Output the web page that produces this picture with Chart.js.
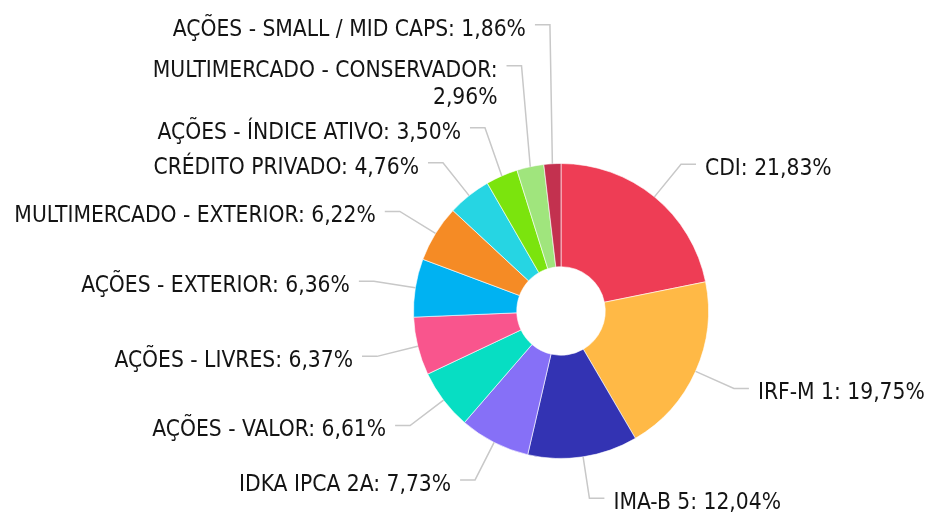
<!DOCTYPE html>
<html>
<head>
<meta charset="utf-8">
<script src="https://cdn.jsdelivr.net/npm/chart.js@4.4.1/dist/chart.umd.min.js"></script>
<style>
  html, body { margin: 0; padding: 0; background: #fff; }
  #wrap { width: 928px; height: 512px; position: relative; }
</style>
</head>
<body>
<div id="wrap"><canvas id="c" width="928" height="512"></canvas></div>
<script>
const categories = [
  'CDI', 'IRF-M 1', 'IMA-B 5', 'IDKA IPCA 2A', 'AÇÕES - VALOR', 'AÇÕES - LIVRES',
  'AÇÕES - EXTERIOR', 'MULTIMERCADO - EXTERIOR', 'CRÉDITO PRIVADO',
  'AÇÕES - ÍNDICE ATIVO', 'MULTIMERCADO - CONSERVADOR', 'AÇÕES - SMALL / MID CAPS'
];
const values = [21.83, 19.75, 12.04, 7.73, 6.61, 6.37, 6.36, 6.22, 4.76, 3.50, 2.96, 1.86];
const colors = [
  '#EE3D55', '#FFB946', '#3333B3', '#8670F7', '#07DEC3', '#F9558D',
  '#00B2F2', '#F58B25', '#26D5E3', '#7BE40D', '#A0E57D', '#C3314F'
];

const FONT = '22.6px "DejaVu Sans Condensed", "DejaVu Sans", sans-serif';
const LINE_H = 27;
const MAX_W = 390;

function fmt(v) { return v.toFixed(2).replace('.', ',') + '%'; }

function wrapText(ctx, text, maxW) {
  const words = text.split(' ');
  const lines = [];
  let cur = '';
  for (const w of words) {
    const t = cur ? cur + ' ' + w : w;
    if (ctx.measureText(t).width > maxW && cur) { lines.push(cur); cur = w; }
    else cur = t;
  }
  if (cur) lines.push(cur);
  return lines;
}

const outsideLabels = {
  id: 'outsideLabels',
  afterDatasetsDraw(chart) {
    const ctx = chart.ctx;
    const meta = chart.getDatasetMeta(0);
    ctx.save();
    ctx.font = FONT;
    const items = meta.data.map((arc, i) => {
      const p = arc.getProps(['x', 'y', 'startAngle', 'endAngle', 'outerRadius'], true);
      const mid = (p.startAngle + p.endAngle) / 2;
      const R = p.outerRadius + 42;
      const text = categories[i] + ': ' + fmt(values[i]);
      const lines = wrapText(ctx, text, MAX_W);
      return {
        i, lines,
        ax: p.x + Math.cos(mid) * p.outerRadius,
        ay: p.y + Math.sin(mid) * p.outerRadius,
        lx: p.x + Math.cos(mid) * R,
        ly: p.y + Math.sin(mid) * R,
        right: Math.cos(mid) >= 0,
        h: lines.length * LINE_H + 8
      };
    });
    // resolve overlaps on left side: bottom to top, pushing up
    const left = items.filter(d => !d.right).sort((a, b) => b.ly - a.ly);
    for (let k = 1; k < left.length; k++) {
      const lower = left[k - 1], upper = left[k];
      const gap = upper.h + (lower.lines.length - 1) * 6;
      if (upper.ly > lower.ly - gap) upper.ly = lower.ly - gap;
    }
    // right side: top to bottom, pushing down
    const right = items.filter(d => d.right).sort((a, b) => a.ly - b.ly);
    for (let k = 1; k < right.length; k++) {
      const upper = right[k - 1], lower = right[k];
      if (lower.ly < upper.ly + upper.h) lower.ly = upper.ly + upper.h;
    }
    ctx.strokeStyle = '#c8c8c8';
    ctx.lineWidth = 1.5;
    ctx.fillStyle = '#141414';
    ctx.textBaseline = 'middle';
    items.forEach(d => {
      const dir = d.right ? 1 : -1;
      const hx = d.lx + dir * 15;
      ctx.beginPath();
      ctx.moveTo(d.ax, d.ay);
      ctx.lineTo(d.lx, d.ly);
      ctx.lineTo(hx, d.ly);
      ctx.stroke();
      ctx.textAlign = d.right ? 'left' : 'right';
      const tx = hx + dir * 9;
      d.lines.forEach((ln, j) => {
        ctx.fillText(ln, tx, d.ly + 5 + j * LINE_H);
      });
    });
    ctx.restore();
  }
};

new Chart(document.getElementById('c'), {
  type: 'doughnut',
  data: {
    labels: categories,
    datasets: [{
      data: values,
      backgroundColor: colors,
      borderColor: 'rgba(255,255,255,0.6)',
      borderWidth: 1
    }]
  },
  options: {
    responsive: false,
    animation: false,
    cutout: '30%',
    layout: { padding: { left: 413, right: 219, top: 163, bottom: 53 } },
    plugins: {
      legend: { display: false },
      tooltip: { enabled: false }
    }
  },
  plugins: [outsideLabels]
});
</script>
</body>
</html>
